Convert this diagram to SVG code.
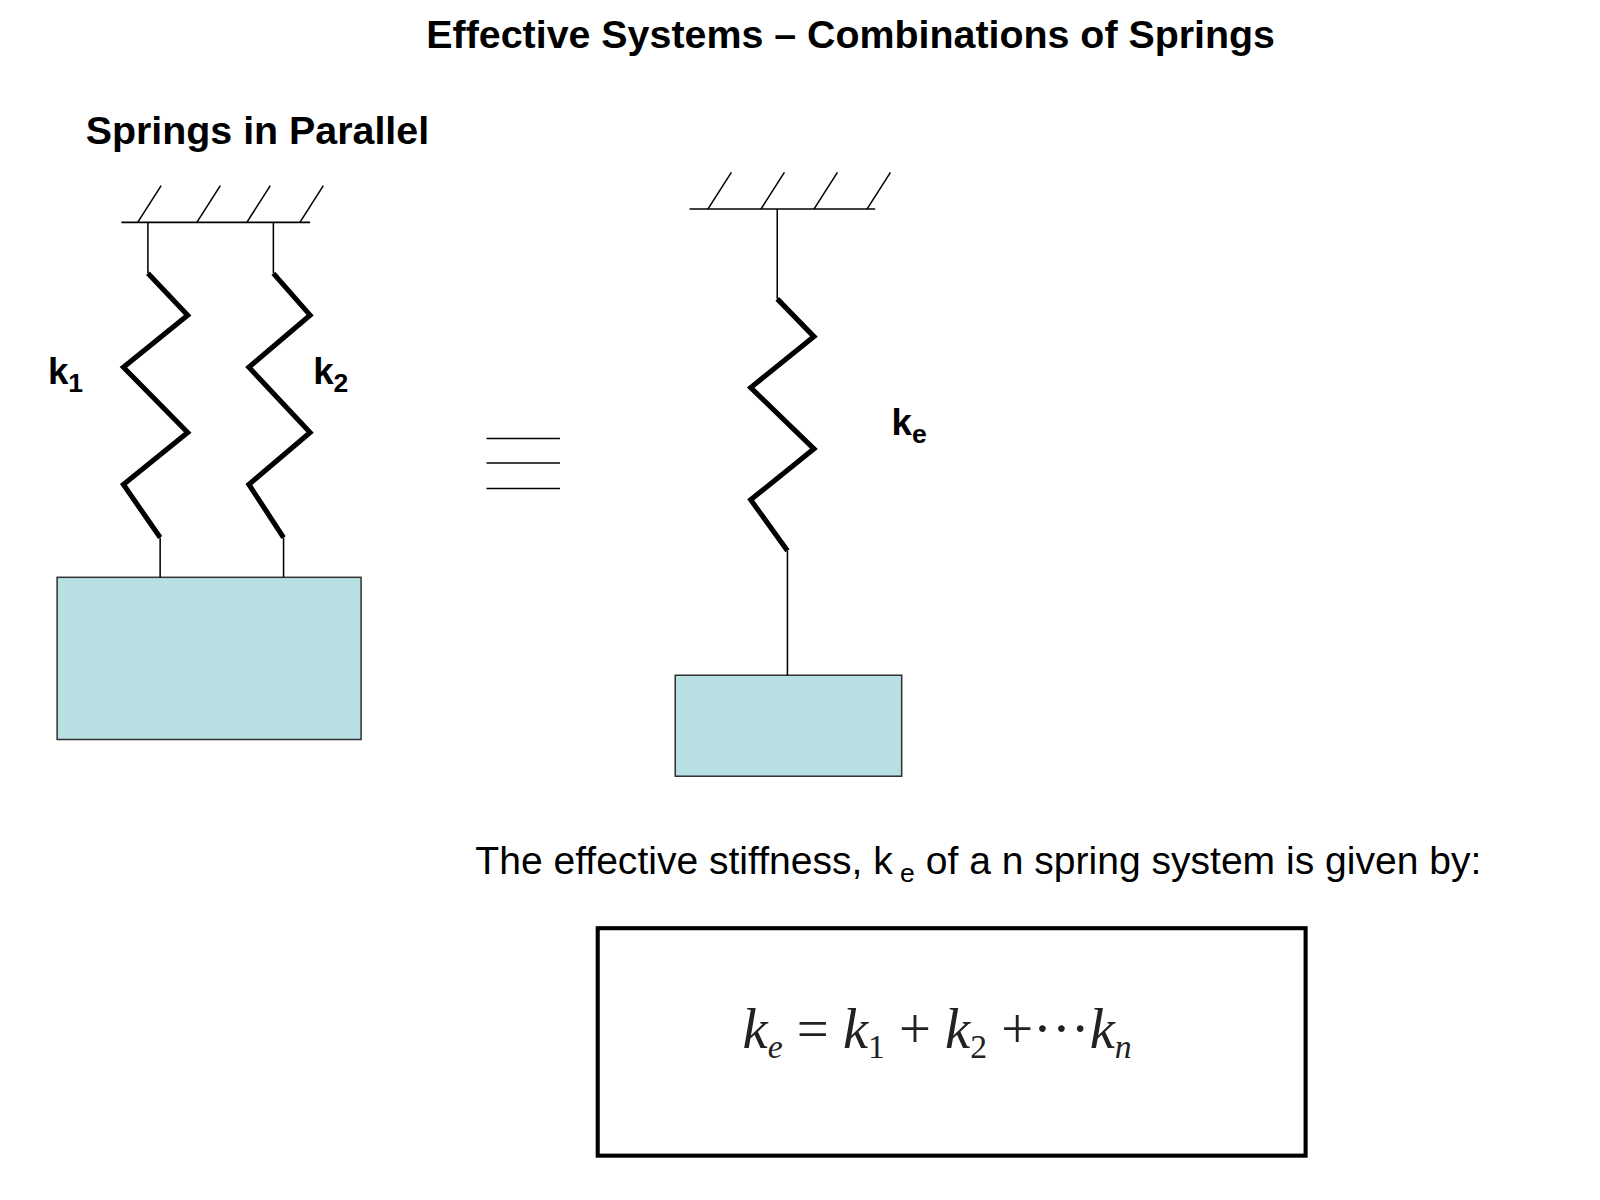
<svg xmlns="http://www.w3.org/2000/svg" width="1600" height="1200" viewBox="0 0 1600 1200">
<style>
.thin{stroke:#000;stroke-width:1.5;fill:none}
.spr{stroke:#000;stroke-width:5;fill:none;stroke-linejoin:miter}
.mass{fill:#b8e0e3;stroke:#333;stroke-width:1.5}
.b{font-family:"Liberation Sans",Arial,sans-serif;font-weight:bold;fill:#000}
.r{font-family:"Liberation Sans",Arial,sans-serif;fill:#000}
.m{font-family:"Liberation Serif","Times New Roman",serif;font-style:italic;fill:#222}
</style>
<rect width="1600" height="1200" fill="#fff"/>
<g transform="scale(1.02)">
<text class="b" x="834" y="47" font-size="38.6" text-anchor="middle">Effective Systems – Combinations of Springs</text>
<text class="b" x="84" y="141" font-size="38.6">Springs in Parallel</text>
<g id="ground1">
<line class="thin" x1="119" y1="218" x2="304" y2="218"/>
<path class="thin" d="M135 218L158 182M193 218L216 182M242 218L265 182M294 218L317 182"/>
</g>
<g id="spring1">
<path class="spr" d="M145 268L184 309L121 360L184 424L121 475L157 527"/>
<text class="b" x="47" y="376" font-size="36">k<tspan font-size="26" dy="8">1</tspan></text>
</g>
<g id="spring2">
<path class="spr" d="M268 268L304 309L244 360L304 424L244 475L278 527"/>
<text class="b" x="307" y="376" font-size="36">k<tspan font-size="26" dy="8">2</tspan></text>
</g>
<g id="mass1"><rect class="mass" x="56" y="566" width="298" height="159"/></g>
<g id="equiv">
<path class="thin" d="M477 430H549M477 454H549M477 479H549"/>
</g>
<g id="ground2">
<line class="thin" x1="676" y1="205" x2="858" y2="205"/>
<path class="thin" d="M694 205L717 169M746 205L769 169M798 205L821 169M850 205L873 169"/>
</g>
<g id="springE">
<path class="spr" d="M762 293L798 330L736 380L798 440L736 490L772 540"/>
<text class="b" x="874" y="426" font-size="36">k<tspan font-size="26" dy="8">e</tspan></text>
</g>
<g id="mass2"><rect class="mass" x="662" y="662" width="222" height="99"/></g>
<g id="connectors">
<path class="thin" d="M145 218V268M268 218V268M157 527V566M278 527V566M762 205V293M772 540V662"/>
</g>
<text class="r" x="466" y="857" font-size="38.3">The effective stiffness, k<tspan font-size="26" dy="8"> e</tspan><tspan dy="-8"> of a n spring system is given by:</tspan></text>
<g id="formula">
<rect x="586" y="910" width="694" height="223" fill="none" stroke="#000" stroke-width="4"/>
<text class="m" x="728" y="1027" font-size="55.5">k<tspan font-size="33" dy="10">e</tspan><tspan dy="-10" font-style="normal"> = </tspan>k<tspan font-size="33" dy="10" font-style="normal">1</tspan><tspan dy="-10" font-style="normal"> + </tspan>k<tspan font-size="33" dy="10" font-style="normal">2</tspan><tspan dy="-10" font-style="normal"> +···</tspan>k<tspan font-size="33" dy="10">n</tspan></text>
</g>
</g>
</svg>
